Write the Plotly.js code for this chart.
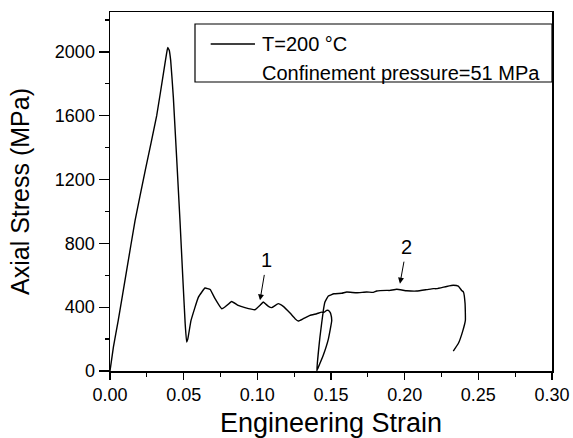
<!DOCTYPE html>
<html>
<head>
<meta charset="utf-8">
<script src="https://cdn.plot.ly/plotly-3.0.1.min.js"></script>
<style>html,body{margin:0;padding:0;background:#fff;}#plot{width:573px;height:438px;}</style>
</head>
<body>
<div id="plot"></div>
<script>
// Engineering strain (x) and axial stress in MPa (y)
var strain = [
  0, 0.0023, 0.0056, 0.0113, 0.017, 0.024, 0.0317, 0.0365, 0.0385, 0.0392, 0.0402, 0.0412, 0.043,
  0.0475, 0.0494, 0.051, 0.052, 0.0528, 0.055, 0.060, 0.0645, 0.068, 0.0713, 0.0758, 0.078,
  0.0826, 0.087, 0.0916, 0.0984, 0.1018, 0.104, 0.1075, 0.1097, 0.1142, 0.1176, 0.1222, 0.1256,
  0.1278, 0.1312, 0.1357, 0.1403, 0.1437, 0.1448, 0.1471, 0.1482, 0.1493, 0.1498, 0.1505,
  0.1482, 0.1448, 0.141, 0.1403,
  0.1425, 0.1448, 0.1459, 0.1482, 0.152, 0.1573, 0.1607, 0.1674, 0.1742, 0.1787, 0.181, 0.1878,
  0.19, 0.1946, 0.2014, 0.2082, 0.215, 0.2194, 0.2217, 0.2285, 0.233, 0.2364, 0.2387, 0.2399,
  0.241, 0.2412, 0.2394, 0.2364, 0.233
];
var stress = [
  0, 150, 317, 630, 943, 1260, 1600, 1880, 1995, 2028, 2010, 1945, 1715,
  943, 588, 300, 182, 200, 317, 463, 520, 511, 453, 390, 401,
  436, 411, 397, 384, 411, 432, 405, 397, 422, 405, 363, 328,
  313, 328, 349, 359, 369, 365, 380, 380, 369, 359, 317,
  200, 100, 15, 0,
  213, 380, 432, 470, 484, 487, 495, 490, 495, 493, 501, 505,
  505, 512, 503, 501, 510, 516, 516, 530, 537, 532, 505, 495,
  422, 317, 250, 172, 125
];
var seriesName = "T=200 \u00B0C";
var legendLine2 = "Confinement pressure=51 MPa";
var xTicks = [0, 0.05, 0.10, 0.15, 0.20, 0.25, 0.30];
var xTickText = ["0.00", "0.05", "0.10", "0.15", "0.20", "0.25", "0.30"];
var yTicks = [0, 400, 800, 1200, 1600, 2000];
var yTickText = ["0", "400", "800", "1200", "1600", "2000"];
// marker labels: [label, tip strain, tip stress, label strain, label stress]
var markLabels = ["1", "2"];
var markTipX = [0.1018, 0.1968];
var markTipY = [443, 547];
var markTextX = [0.1064, 0.2013];
var markTextY = [693, 776];

var FONT = '"Liberation Sans", Arial, Helvetica, sans-serif';

var trace = {
  x: strain, y: stress, type: 'scatter', mode: 'lines',
  line: {color: '#000', width: 1.4, shape: 'spline', smoothing: 0.3},
  name: seriesName, showlegend: false
};

var annotations = [];
for (var i = 0; i < markLabels.length; i++) {
  annotations.push({
    x: markTipX[i], y: markTipY[i], xref: 'x', yref: 'y',
    ax: markTextX[i], ay: markTextY[i], axref: 'x', ayref: 'y',
    text: markLabels[i], showarrow: true, arrowhead: 2, arrowsize: 1.2,
    arrowwidth: 1, arrowcolor: '#000', standoff: 0, startstandoff: 2,
    font: {family: FONT, size: 20, color: '#000'}
  });
}
// legend (drawn manually to match the reference box)
annotations.push({
  x: 0.3394, y: 0.9109, xref: 'paper', yref: 'paper', xanchor: 'left', yanchor: 'middle',
  text: seriesName, showarrow: false, font: {family: FONT, size: 20, color: '#000'}
});
annotations.push({
  x: 0.3394, y: 0.831, xref: 'paper', yref: 'paper', xanchor: 'left', yanchor: 'middle',
  text: legendLine2, showarrow: false, font: {family: FONT, size: 20, color: '#000'}
});

var shapes = [
  {type: 'rect', xref: 'paper', yref: 'paper', x0: 0.1923, x1: 1.0, y0: 0.805, y1: 0.9666,
   line: {color: '#000', width: 1.2}, fillcolor: 'rgba(0,0,0,0)'},
  {type: 'line', xref: 'paper', yref: 'paper', x0: 0.2278, x1: 0.328, y0: 0.9109, y1: 0.9109,
   line: {color: '#000', width: 1.3}}
];

var layout = {
  width: 573, height: 438,
  margin: {l: 110, r: 21, t: 12, b: 67},
  paper_bgcolor: '#fff', plot_bgcolor: '#fff',
  font: {family: FONT, color: '#000'},
  showlegend: false,
  xaxis: {
    range: [0, 0.30], tickvals: xTicks, ticktext: xTickText,
    ticks: 'outside', ticklen: 7, tickwidth: 1.3, tickcolor: '#000',
    minor: {dtick: 0.025, ticks: 'outside', ticklen: 4, tickwidth: 1.3, tickcolor: '#000'},
    showline: true, linecolor: '#000', linewidth: 1.5, mirror: true,
    showgrid: false, zeroline: false,
    tickfont: {family: FONT, size: 18, color: '#000'},
    title: {text: 'Engineering Strain', font: {family: FONT, size: 27, color: '#000'}, standoff: 13}
  },
  yaxis: {
    range: [0, 2250], tickvals: yTicks, ticktext: yTickText,
    ticks: 'outside', ticklen: 10, tickwidth: 1.3, tickcolor: '#000',
    minor: {dtick: 200, ticks: 'outside', ticklen: 4, tickwidth: 1.3, tickcolor: '#000'},
    showline: true, linecolor: '#000', linewidth: 1.5, mirror: true,
    showgrid: false, zeroline: false,
    tickfont: {family: FONT, size: 18, color: '#000'},
    title: {text: 'Axial Stress (MPa)', font: {family: FONT, size: 25, color: '#000'}, standoff: 18}
  },
  annotations: annotations,
  shapes: shapes
};

Plotly.newPlot('plot', [trace], layout, {displayModeBar: false, staticPlot: true});
</script>
</body>
</html>
